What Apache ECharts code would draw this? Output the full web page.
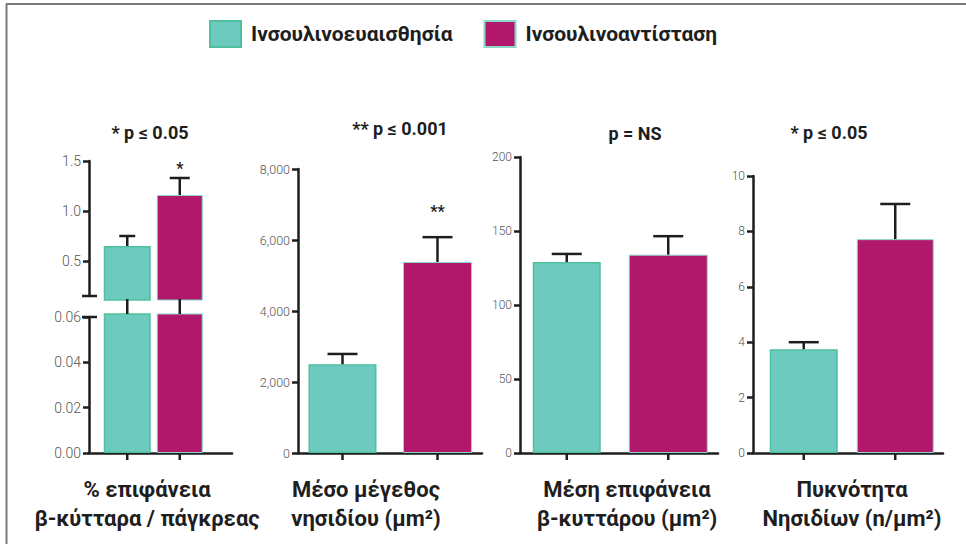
<!DOCTYPE html>
<html>
<head>
<meta charset="utf-8">
<script src="https://cdn.jsdelivr.net/npm/echarts@6/dist/echarts.min.js"></script>
<style>
  html, body { margin: 0; padding: 0; background: #ffffff; }
  #chart { width: 966px; height: 544px; }
</style>
</head>
<body>
<div id="chart"></div>
<script>
// ---- data ----
const groups = ['Ινσουλινοευαισθησία', 'Ινσουλινοαντίσταση'];
const pLabels = ['* p ≤ 0.05', '** p ≤ 0.001', 'p = NS', '* p ≤ 0.05'];
const panelNames = [
  ['% επιφάνεια', 'β-κύτταρα / πάγκρεας'],
  ['Μέσο μέγεθος', 'νησιδίου (μm²)'],
  ['Μέση επιφάνεια', 'β-κυττάρου (μm²)'],
  ['Πυκνότητα', 'Νησιδίων (n/μm²)']
];
const sensitiveMean = [0.65, 2500, 129, 3.75];
const sensitiveSem  = [0.10, 290, 5.5, 0.25];
const resistantMean = [1.16, 5380, 134, 7.72];
const resistantSem  = [0.17, 700, 12.5, 1.27];
const significance = [['', '*'], ['', '**'], ['', ''], ['', '']];

// tick values per axis (panel 1 uses a broken axis: upper and lower part)
const ticksUpper1 = [0.5, 1.0, 1.5];
const ticksLower1 = [0, 0.02, 0.04, 0.06];
const ticks2 = [0, 2000, 4000, 6000, 8000];
const ticks3 = [0, 50, 100, 150, 200];
const ticks4 = [0, 2, 4, 6, 8, 10];

// ---- layout & style ----
const FONT = 'Roboto';
const INK = '#1e1e1e';
const GREEN = '#6dcabe';
const MAGENTA = '#b1186c';

const panels = [
  {
    frames: [
      { rect: { left: 89, top: 161, width: 143, height: 135 }, min: 0.15, max: 1.5, ticks: ticksUpper1, fmt: v => v.toFixed(1), xLine: false, breakAt: 0.15 },
      { rect: { left: 89, top: 317, width: 143, height: 136 }, min: 0, max: 0.06, ticks: ticksLower1, fmt: v => v.toFixed(2), xLine: true, breakAt: 0.06 }
    ],
    bars: [
      { rect: { left: 101, top: 161, width: 105, height: 139 }, min: 0.11, max: 1.5, xTicks: false, errors: true },
      { rect: { left: 101, top: 314, width: 105, height: 139 }, min: 0, max: 0.0614, xTicks: true, errors: false, connectors: true }
    ],
    barWidths: [47, 46], capHalf: [8, 10], starGap: 10, labelSize: 14,
    pPos: [150, 132], namePos: 147
  },
  {
    frames: [{ rect: { left: 298, top: 169, width: 184, height: 284 }, min: 0, max: 8000, ticks: ticks2, fmt: v => v.toLocaleString('en-US'), xLine: true }],
    bars: [{ rect: { left: 295, top: 169, width: 190, height: 284 }, min: 0, max: 8000, xTicks: true, errors: true }],
    barWidths: [68, 69], capHalf: [15, 15], starGap: 26, labelSize: 12.5,
    pPos: [400, 128], namePos: 366
  },
  {
    frames: [{ rect: { left: 520, top: 157, width: 198, height: 296 }, min: 0, max: 200, ticks: ticks3, fmt: v => String(v), xLine: true }],
    bars: [{ rect: { left: 516, top: 157, width: 203, height: 296 }, min: 0, max: 200, xTicks: true, errors: true }],
    barWidths: [68, 79], capHalf: [15, 15], starGap: 12, labelSize: 12,
    pPos: [635, 133], namePos: 627
  },
  {
    frames: [{ rect: { left: 753, top: 176, width: 190, height: 277 }, min: 0, max: 10, ticks: ticks4, fmt: v => String(v), xLine: true }],
    bars: [{ rect: { left: 758, top: 176, width: 183, height: 277 }, min: 0, max: 10, xTicks: true, errors: true }],
    barWidths: [68, 77], capHalf: [15, 15], starGap: 12, labelSize: 12,
    pPos: [829, 132], namePos: 852
  }
];

const greenStyle = { color: GREEN, borderColor: '#4fc09e', borderWidth: 1.5 };
const magentaStyle = { color: MAGENTA, borderColor: '#8ad8c8', borderWidth: 1 };

const grids = [], xAxes = [], yAxes = [], series = [], graphics = [], frameRefs = [];

function addGrid(rect) {
  grids.push(Object.assign({ containLabel: false, outerBoundsMode: 'none' }, rect));
  return grids.length - 1;
}

// a dark 2.5px stroke segment, each with its own style object
function seg(x1, y1, x2, y2, z) {
  const el = { type: 'line', shape: { x1, y1, x2, y2 }, style: { stroke: INK, lineWidth: 2.5 } };
  if (z !== undefined) el.z = z;
  return el;
}

panels.forEach((pan, p) => {
  // axis frames: visible y axis (line, ticks, labels) and the x baseline
  pan.frames.forEach(fr => {
    const gi = addGrid(fr.rect);
    const xi = xAxes.length, yi = yAxes.length;
    xAxes.push({
      gridIndex: gi, type: 'value', min: 0, max: 1,
      axisLine: { show: fr.xLine, onZero: false, lineStyle: { color: INK, width: 2.5 } },
      axisTick: { show: false }, axisLabel: { show: false }, splitLine: { show: false }
    });
    yAxes.push({
      gridIndex: gi, type: 'value', min: fr.min, max: fr.max,
      axisLine: { show: true, onZero: false, lineStyle: { color: INK, width: 2.5 } },
      axisTick: { show: true, length: 6, customValues: fr.ticks, lineStyle: { color: INK, width: 2.5 } },
      axisLabel: {
        customValues: fr.ticks, formatter: fr.fmt, margin: 8,
        color: '#555555', fontFamily: FONT, fontWeight: 300, fontSize: pan.labelSize
      },
      splitLine: { show: false }
    });
    frameRefs.push({ xi, yi, fr });
  });

  // bar areas: two category axes so every group keeps its own bar width
  pan.bars.forEach(bg => {
    const gi = addGrid(bg.rect);
    const xa = xAxes.length;
    for (let k = 0; k < 2; k++) {
      xAxes.push({ gridIndex: gi, type: 'category', data: groups, show: false });
    }
    const ya = yAxes.length;
    yAxes.push({ gridIndex: gi, type: 'value', show: false, min: bg.min, max: bg.max, splitLine: { show: false } });

    series.push({
      type: 'bar', name: groups[0], xAxisIndex: xa, yAxisIndex: ya,
      data: [sensitiveMean[p], '-'], barWidth: pan.barWidths[0],
      itemStyle: greenStyle, clip: true, silent: true, z: 2
    });
    series.push({
      type: 'bar', name: groups[1], xAxisIndex: xa + 1, yAxisIndex: ya,
      data: ['-', resistantMean[p]], barWidth: pan.barWidths[1],
      itemStyle: magentaStyle, clip: true, silent: true, z: 2
    });

    const tickAt = (api, i) => {
      const b = api.coord([i, bg.min]);
      return seg(b[0], b[1], b[0], b[1] + 7);
    };

    if (bg.errors) {
      series.push({
        type: 'custom', xAxisIndex: xa, yAxisIndex: ya, silent: true, clip: false, z: 4,
        data: [[0, sensitiveMean[p], sensitiveSem[p]], [1, resistantMean[p], resistantSem[p]]],
        renderItem(params, api) {
          const i = api.value(0);
          const mean = api.value(1), sem = api.value(2);
          const base = api.coord([i, mean]);
          const tip = api.coord([i, mean + sem]);
          const half = pan.capHalf[i];
          const children = [
            seg(base[0], base[1], tip[0], tip[1]),
            seg(tip[0] - half, tip[1], tip[0] + half, tip[1])
          ];
          if (bg.xTicks) children.push(tickAt(api, i));
          const mark = significance[p][i];
          if (mark) {
            children.push({
              type: 'text', x: tip[0], y: tip[1] - pan.starGap,
              style: { text: mark, fill: INK, font: 'bold 16px ' + FONT, align: 'center', verticalAlign: 'middle' }
            });
          }
          return { type: 'group', children };
        }
      });
    }

    if (bg.connectors) {
      // links across the axis break at each bar's centre, plus the category ticks
      series.push({
        type: 'custom', xAxisIndex: xa, yAxisIndex: ya, silent: true, clip: false, z: 3,
        data: [[0, sensitiveMean[p]], [1, resistantMean[p]]],
        renderItem(params, api) {
          const i = api.value(0);
          const top = api.coord([i, Math.min(api.value(1), bg.max)]);
          return {
            type: 'group',
            children: [seg(top[0], top[1], top[0], top[1] - 15), tickAt(api, i)]
          };
        }
      });
    }
  });

  // significance heading
  graphics.push({
    type: 'text', x: pan.pPos[0], y: pan.pPos[1],
    style: { text: pLabels[p], fill: INK, font: 'bold 18px ' + FONT, align: 'center', verticalAlign: 'middle' }
  });
  // panel caption, two lines
  panelNames[p].forEach((line, j) => {
    graphics.push({
      type: 'text', x: pan.namePos, y: 489 + j * 29,
      style: { text: line, fill: INK, font: 'bold 22px ' + FONT, align: 'center', verticalAlign: 'middle' }
    });
  });
});

// outer frame (top and left edges)
graphics.push({ type: 'line', shape: { x1: 6, y1: 4, x2: 966, y2: 4 }, style: { stroke: '#7a7a7a', lineWidth: 2 } });
graphics.push({ type: 'line', shape: { x1: 6.5, y1: 4, x2: 6.5, y2: 544 }, style: { stroke: '#7a7a7a', lineWidth: 2 } });

// SVG output keeps every stroke as its own node
const chart = echarts.init(document.getElementById('chart'), null, { renderer: 'svg' });
chart.setOption({
  animation: false,
  backgroundColor: '#ffffff',
  legend: {
    data: groups, left: 209, top: 20, padding: 0, icon: 'rect',
    itemWidth: 31, itemHeight: 26, itemGap: 31, selectedMode: false,
    textStyle: { fontFamily: FONT, fontWeight: 'bold', fontSize: 21, color: INK, padding: [0, 0, 0, 5] }
  },
  grid: grids,
  xAxis: xAxes,
  yAxis: yAxes,
  series: series,
  graphic: { elements: graphics }
});

// break marks on the split axis of panel 1, placed through the axis scale
const breakMarks = [];
frameRefs.forEach(({ xi, yi, fr }) => {
  if (fr.breakAt === undefined) return;
  const x0 = chart.convertToPixel({ xAxisIndex: xi }, 0);
  const y = chart.convertToPixel({ yAxisIndex: yi }, fr.breakAt);
  breakMarks.push(seg(x0 - 7, y, x0 + 8, y, 50));
});
chart.setOption({ graphic: { elements: graphics.concat(breakMarks) } });
</script>
</body>
</html>
